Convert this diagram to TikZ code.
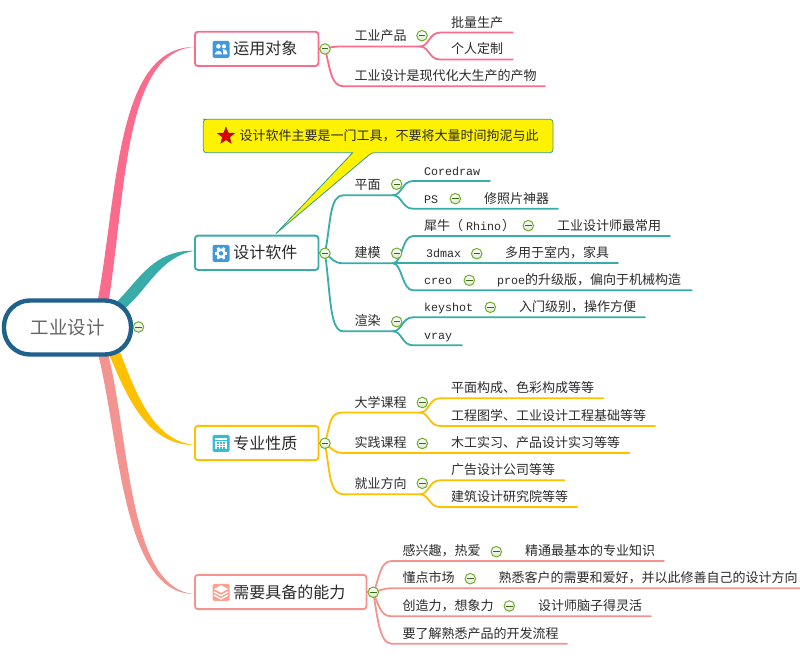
\documentclass[tikz,border=0pt]{standalone}
\usepackage{fontspec}
\setmainfont{Noto Sans CJK SC}
\setmonofont{Liberation Mono}
\usetikzlibrary{shapes.geometric,backgrounds,calc}
\definecolor{pinkc}{HTML}{FB6C8C}
\definecolor{tealc}{HTML}{38ACA9}
\definecolor{goldc}{HTML}{FFC000}
\definecolor{salmc}{HTML}{F39490}
\definecolor{rootc}{HTML}{1F618D}
\definecolor{inkc}{HTML}{2A2A2A}
\definecolor{mkg}{HTML}{6DAE2A}
\definecolor{mkf}{HTML}{DDE8D2}
\definecolor{icblue}{HTML}{3F9ADD}
\definecolor{iccyan}{HTML}{38BCD4}
\definecolor{icsalm}{HTML}{FCA08F}
\newcommand{\mn}[1]{{\ttfamily\fontsize{11.67pt}{15pt}\selectfont #1}}
\tikzset{
  leaf/.style={anchor=south west,inner sep=0pt,outer sep=0pt,text width=#1 pt,align=left,
    text height=11pt,text depth=5.5pt,text=inkc,font=\fontsize{13pt}{15pt}\selectfont,
    execute at begin node={\hspace*{11pt}}},
  branchbox/.style n args={2}{draw=#1,fill=white,line width=1.9pt,rounded corners=3pt,inner sep=0pt,outer sep=0pt,
    minimum width=#2 pt,minimum height=34.3pt,text width=#2 pt,align=left,text=inkc,
    font=\fontsize{16pt}{18pt}\selectfont,execute at begin node={\hspace*{38.5pt}}},
  rootbox/.style={draw=rootc,fill=white,line width=4.4pt,rounded corners=26pt,inner sep=0pt,outer sep=0pt,
    minimum width=127pt,minimum height=54pt,text=black!60,font=\fontsize{18.5pt}{20pt}\selectfont},
  mk/.style={circle,draw=mkg,line width=1pt,top color=white,bottom color=mkf,minimum size=10.5pt,inner sep=0pt,
    path picture={\draw[mkg!60!black,line width=1pt] ([xshift=-3.2pt]path picture bounding box.center) -- ([xshift=3.2pt]path picture bounding box.center);}},
  conn/.style={draw=#1,line width=1.8pt,line cap=round},
  iconbox/.style={fill=#1,minimum size=17pt,inner sep=0pt,outer sep=0pt,rounded corners=1.5pt},
  notetext/.style={anchor=west,inner sep=0pt,text=inkc,font=\fontsize{13pt}{15pt}\selectfont},
}
\newcommand{\lf}[5]{\node[leaf={#4}] (#1) at (#2,#3) {#5};}
\newcommand{\fork}[3]{\draw[conn=#1] (#2.south east) .. controls +(9,0) and +(-11,0) .. (#3.south west) -- (#3.south east);}
\begin{document}
\begin{tikzpicture}[x=1pt,y=-1pt]
\useasboundingbox (0,0) rectangle (800,663);
% root and branch boxes
\node[rootbox] (root) at (67.5,327.5) {工业设计};
\node[mk] (m0) at (138.5,327) {};
\node[branchbox={pinkc}{123.5}] (b1) at (256.7,48.9) {运用对象};
\node[branchbox={tealc}{123.5}] (b2) at (256.7,252.8) {设计软件};
\node[branchbox={goldc}{123.5}] (b3) at (256.7,443) {专业性质};
\node[branchbox={salmc}{171.5}] (b4) at (280.7,592) {需要具备的能力};
\node[mk] (m1) at (325,49) {};
\node[mk] (m2) at (325,253.3) {};
\node[mk] (m3) at (325,443.3) {};
\node[mk] (m4) at (373.3,592.3) {};
% icons
\node[iconbox=icblue] (i1) at (221,49.3) {};
\begin{scope}[shift={(i1.center)},white]
  \fill (-2.6,-3) circle (2.3);
  \fill (-6.2,5) .. controls (-6,0.5) and (1,0.5) .. (1,5) -- cycle;
  \fill (3,-3) circle (2.1);
  \fill (2.2,5) .. controls (2.6,2) and (2,0) .. (1.6,-0.2) .. controls (4,-0.6) and (6.4,1) .. (6.4,5) -- cycle;
\end{scope}
\node[iconbox=icblue] (i2) at (221,253.3) {};
\begin{scope}[shift={(i2.center)}]
  \fill[white] (0,0) circle (4.9);
  \foreach \a in {0,60,...,300} \draw[white,line width=2.6pt] (0,0) -- (\a:6.4);
  \fill[icblue] (0,0) circle (2.2);
\end{scope}
\node[iconbox=iccyan] (i3) at (221,443.3) {};
\begin{scope}[shift={(i3.center)}]
  \fill[white] (-6,-5.5) rectangle (6,6);
  \fill[iccyan] (-6,-3.5) rectangle (6,-2.2);
  \foreach \x in {-4,-0.9,2.2} \foreach \y in {-1,1.6,4} \fill[iccyan] (\x,\y) rectangle +(1.8,1.3);
\end{scope}
\node[iconbox=icsalm] (i4) at (221,592.3) {};
\begin{scope}[shift={(i4.center)},white]
  \fill (0,-7) -- (7,-3.3) -- (0,0.4) -- (-7,-3.3) -- cycle;
  \foreach \d in {0,3.3} {
    \draw[line width=1.3pt] (-7,-0.4+\d) -- (0,3.3+\d) -- (7,-0.4+\d);
  }
\end{scope}
% callout
\coordinate (tip) at (276,233.5);
\draw[fill=yellow,draw=tealc!90!black,line width=0.8pt,rounded corners=3pt]
  (206,119.3) -- (553,119.3) -- (553,152.7) -- (371.7,152.7) [sharp corners] -- (tip) -- (352.7,152.7) [rounded corners=3pt] -- (203.3,152.7) -- (203.3,119.3) -- cycle;
\node[star,star points=5,star point ratio=2.4,fill=red!85!black,draw=red!60!black,line width=0.3pt,minimum size=18pt,inner sep=0pt] (st) at (226,136) {};
\node[notetext] (note) at (239.5,136) {设计软件主要是一门工具，不要将大量时间拘泥与此};
% branch 1 leaves
\lf{a1}{343.5}{46.5}{76.5}{工业产品}
\lf{a2}{343.5}{86.3}{201.5}{工业设计是现代化大生产的产物}
\lf{a11}{440}{32.6}{72.7}{批量生产}
\lf{a12}{440}{59.5}{72.7}{个人定制}
\node[mk] (ma1) at (422,35.7) {};
% branch 2 leaves
\lf{t1}{343.5}{195.2}{49.5}{平面}
\lf{t2}{343.5}{263.3}{49.5}{建模}
\lf{t3}{343.5}{331.3}{49.5}{渲染}
\node[mk] (mt1) at (396.7,184.3) {};
\node[mk] (mt2) at (396.7,253.3) {};
\node[mk] (mt3) at (396.7,321.7) {};
\lf{t11}{413}{181}{77}{\mn{Coredraw}}
\lf{t12}{413}{208.7}{60}{\mn{PS}}
\lf{t121}{473}{208.7}{85}{修照片神器}
\node[mk] (mt12) at (455.3,198.7) {};
\lf{t21}{413}{236}{130}{犀牛（\hspace{3pt}\mn{Rhino}\hspace{1pt}）}
\lf{t211}{546}{236}{124}{工业设计师最常用}
\node[mk] (mt21) at (528.3,225.7) {};
\lf{t22}{415}{263.3}{70}{\mn{3dmax}}
\lf{t221}{494}{263.3}{124}{多用于室内，家具}
\node[mk] (mt22) at (476.7,253.7) {};
\lf{t23}{413}{290.3}{60}{\mn{creo}}
\lf{t231}{486}{290.3}{205.7}{\mn{proe}的升级版，偏向于机械构造}
\node[mk] (mt23) at (469.3,280.3) {};
\lf{t31}{413}{317.3}{90}{\mn{keyshot}}
\lf{t311}{508}{317.3}{137}{入门级别，操作方便}
\node[mk] (mt31) at (490.3,307.3) {};
\lf{t32}{413}{345.3}{49}{\mn{vray}}
% branch 3 leaves
\lf{g1}{343.5}{412.5}{76.5}{大学课程}
\lf{g2}{343.5}{453}{76.5}{实践课程}
\lf{g3}{343.5}{494.3}{76.5}{就业方向}
\node[mk] (mg1) at (422.3,402.5) {};
\node[mk] (mg2) at (422.3,443.5) {};
\node[mk] (mg3) at (422.3,483.3) {};
\lf{g11}{440}{398.3}{163.3}{平面构成、色彩构成等等}
\lf{g12}{440}{426}{215}{工程图学、工业设计工程基础等等}
\lf{g21}{440}{453}{189.3}{木工实习、产品设计实习等等}
\lf{g31}{440}{480.3}{124.3}{广告设计公司等等}
\lf{g32}{440}{507}{137.3}{建筑设计研究院等等}
% branch 4 leaves
\lf{s1}{391.5}{561}{122}{感兴趣，热爱}
\lf{s11}{514}{561}{150}{精通最基本的专业知识}
\node[mk] (ms1) at (496.3,551.7) {};
\lf{s2}{391.5}{588.3}{96}{懂点市场}
\lf{s21}{487.5}{588.3}{312.5}{熟悉客户的需要和爱好，并以此修善自己的设计方向}
\node[mk] (ms2) at (470.3,578.7) {};
\lf{s3}{391.5}{616.3}{135}{创造力，想象力}
\lf{s31}{527}{616.3}{124}{设计师脑子得灵活}
\node[mk] (ms3) at (509.3,606) {};
\lf{s4}{391.5}{643.7}{175.5}{要了解熟悉产品的开发流程}
\begin{pgfonlayer}{background}
  % tapered trunks
  \coordinate (p1a) at (97.5,302);
  \coordinate (p1b) at (108.5,302);
  \coordinate (p2a) at (115.5,303);
  \coordinate (p2b) at (124,309);
  \coordinate (p3a) at (109,354);
  \coordinate (p3b) at (120,352);
  \coordinate (p4a) at (98,354);
  \coordinate (p4b) at (108,354);
  \fill[pinkc] (p1a) .. controls (118,190) and (116,47) .. ([yshift=2pt]b1.west) .. controls (124,51) and (126,192) .. (p1b) -- cycle;
  \fill[tealc] (p2a) .. controls (137,283) and (153,249) .. ([yshift=2pt]b2.west) .. controls (160,256) and (147,291) .. (p2b) -- cycle;
  \fill[goldc] (p3a) .. controls (126,395) and (147,446) .. ([yshift=-2pt]b3.west) .. controls (153,441) and (136,393) .. (p3b) -- cycle;
  \fill[salmc] (p4a) .. controls (120,440) and (122,595) .. ([yshift=-2pt]b4.west) .. controls (128,590) and (130,440) .. (p4b) -- cycle;
  % branch 1
  \draw[conn=pinkc] (b1.east) -- (m1.center);
  \draw[conn=pinkc] (m1.center) .. controls +(6,-2) and +(-10,0) .. (a1.south west) -- (a1.south east);
  \draw[conn=pinkc] (m1.center) .. controls +(5,18) and +(-13,0) .. (a2.south west) -- (a2.south east);
  \fork{pinkc}{a1}{a11}
  \fork{pinkc}{a1}{a12}
  % branch 2
  \draw[conn=tealc] (b2.east) -- (m2.center);
  \draw[conn=tealc] (m2.center) .. controls +(6,-32) and +(-14,0) .. (t1.south west) -- (t1.south east);
  \draw[conn=tealc] (m2.center) .. controls +(7,5) and +(-10,0) .. (t2.south west) -- (t2.south east);
  \draw[conn=tealc] (m2.center) .. controls +(6,44) and +(-14,0) .. (t3.south west) -- (t3.south east);
  \fork{tealc}{t1}{t11}
  \draw[conn=tealc] (t1.south east) .. controls +(9,0) and +(-11,0) .. (t12.south west) -- (t12.south east) -- (t121.south west) -- (t121.south east);
  \draw[conn=tealc] (t2.south east) .. controls +(9,0) and +(-11,0) .. (t21.south west) -- (t21.south east) -- (t211.south west) -- (t211.south east);
  \draw[conn=tealc] (t2.south east) -- (t22.south west) -- (t22.south east) -- (t221.south west) -- (t221.south east);
  \draw[conn=tealc] (t2.south east) .. controls +(9,0) and +(-11,0) .. (t23.south west) -- (t23.south east) -- (t231.south west) -- (t231.south east);
  \draw[conn=tealc] (t3.south east) .. controls +(9,0) and +(-11,0) .. (t31.south west) -- (t31.south east) -- (t311.south west) -- (t311.south east);
  \fork{tealc}{t3}{t32}
  % branch 3
  \draw[conn=goldc] (b3.east) -- (m3.center);
  \draw[conn=goldc] (m3.center) .. controls +(6,-22) and +(-14,0) .. (g1.south west) -- (g1.south east);
  \draw[conn=goldc] (m3.center) .. controls +(7,5) and +(-10,0) .. (g2.south west) -- (g2.south east);
  \draw[conn=goldc] (m3.center) .. controls +(5,30) and +(-14,0) .. (g3.south west) -- (g3.south east);
  \fork{goldc}{g1}{g11}
  \fork{goldc}{g1}{g12}
  \draw[conn=goldc] (g2.south east) -- (g21.south west) -- (g21.south east);
  \fork{goldc}{g3}{g31}
  \fork{goldc}{g3}{g32}
  % branch 4
  \draw[conn=salmc] (b4.east) -- (m4.center);
  \draw[conn=salmc] (m4.center) .. controls +(6,-12) and +(-12,0) .. (s1.south west) -- (s1.south east) -- (s11.south west) -- (s11.south east);
  \draw[conn=salmc] (m4.center) .. controls +(6,-1) and +(-10,0) .. (s2.south west) -- (s2.south east) -- (s21.south west) -- (s21.south east);
  \draw[conn=salmc] (m4.center) .. controls +(5,12) and +(-11,0) .. (s3.south west) -- (s3.south east) -- (s31.south west) -- (s31.south east);
  \draw[conn=salmc] (m4.center) .. controls +(4,24) and +(-12,0) .. (s4.south west) -- (s4.south east);
\end{pgfonlayer}
\end{tikzpicture}
\end{document}
